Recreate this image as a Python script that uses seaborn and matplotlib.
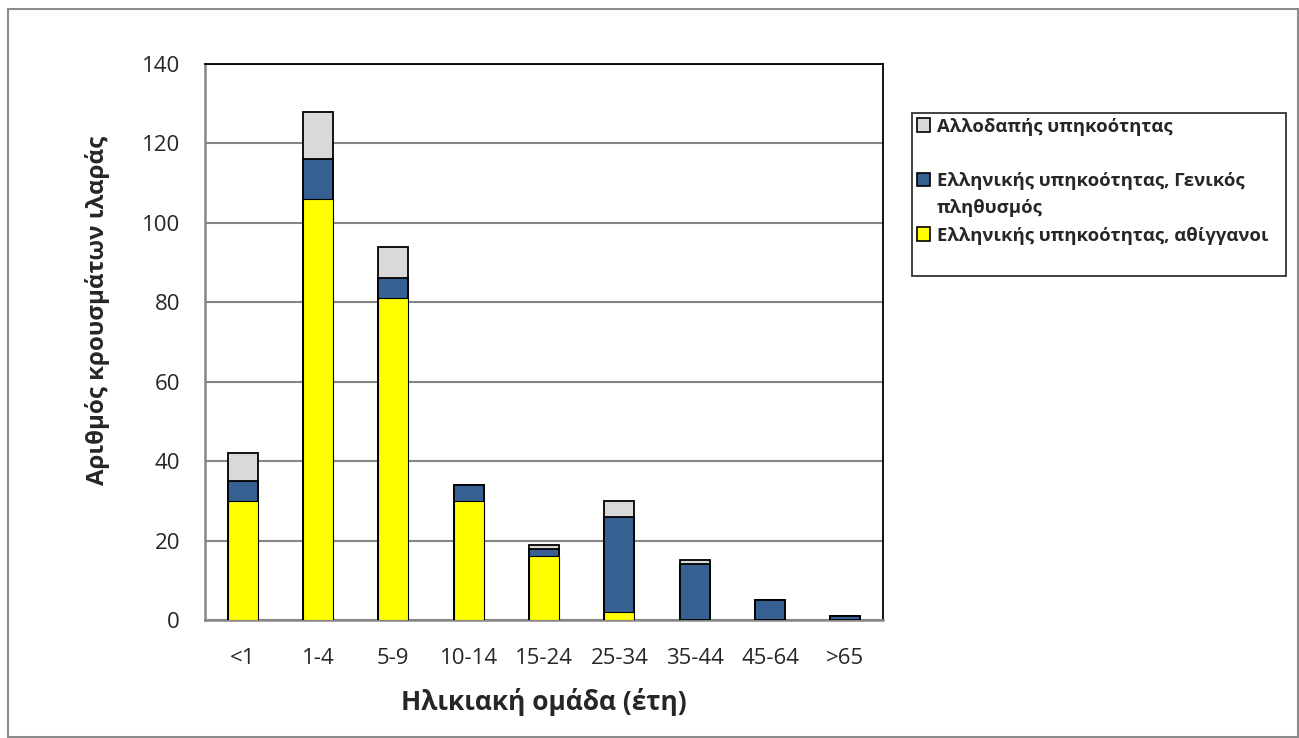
import matplotlib
matplotlib.use("Agg")
import matplotlib.pyplot as plt
import matplotlib.patches as mpatches
import seaborn as sns
import pandas as pd
import numpy as np

categories = ["<1", "1-4", "5-9", "10-14", "15-24", "25-34", "35-44", "45-64", ">65"]
roma = [30, 106, 81, 30, 16, 2, 0, 0, 0]          # Ελληνικής υπηκοότητας, αθίγγανοι
general = [5, 10, 5, 4, 2, 24, 14, 5, 1]          # Ελληνικής υπηκοότητας, Γενικός πληθυσμός
foreign = [7, 12, 8, 0, 1, 4, 1, 0, 0]            # Αλλοδαπής υπηκοότητας
label_foreign = "Αλλοδαπής υπηκοότητας"
label_general = ["Ελληνικής υπηκοότητας, Γενικός", "πληθυσμός"]
label_roma = "Ελληνικής υπηκοότητας, αθίγγανοι"
y_ticks = [0, 20, 40, 60, 80, 100, 120, 140]

sns.set_style("white")
plt.rcParams['font.family'] = ['Open Sans', 'DejaVu Sans']

c_grey = "#D9D9D9"
c_blue = "#376092"
c_yellow = "#FFFF00"

df = pd.DataFrame({"cat": categories, "roma": roma, "general": general, "foreign": foreign})
df["c1"] = df["roma"]
df["c2"] = df["roma"] + df["general"]
df["c3"] = df["c2"] + df["foreign"]

fig = plt.figure(figsize=(12.99, 7.38), dpi=100)
ax = fig.add_axes([205/1299, 118/738, 678/1299, 556/738])

# outer border
fig.patches.append(mpatches.Rectangle((8/1299, 1/738), 1290/1299, 728/738,
                                      transform=fig.transFigure, fill=False,
                                      edgecolor="#8C8C8C", linewidth=1.5))

w = 0.4
sns.barplot(data=df, x="cat", y="c3", color=c_grey, ax=ax, width=w,
            edgecolor="black", linewidth=1.3, saturation=1, zorder=3)
sns.barplot(data=df, x="cat", y="c2", color=c_blue, ax=ax, width=w,
            edgecolor="black", linewidth=1.3, saturation=1, zorder=3)
sns.barplot(data=df, x="cat", y="c1", color=c_yellow, ax=ax, width=w,
            edgecolor="black", linewidth=0.8, saturation=1, zorder=3)

for p in ax.patches:
    if p.get_height() <= 0:
        p.set_visible(False)

ax.set_ylim(0, 140)
ax.set_xlim(-0.5, len(categories) - 0.5)
ax.set_yticks(y_ticks)
ax.set_yticklabels([str(t) for t in y_ticks], fontsize=16)
ax.yaxis.grid(True, color="#868686", linewidth=1.5, zorder=0)
ax.set_axisbelow(True)

ax.set_xticks(range(len(categories)))
ax.set_xticklabels(categories, fontsize=16)
ax.tick_params(axis="x", length=0, pad=20)
ax.set_xticks(np.arange(-0.5, len(categories), 1.0), minor=True)
ax.tick_params(axis="x", which="minor", length=6, width=1.5, color="#868686", direction="out")
ax.tick_params(axis="y", length=6, width=1.5, color="#868686", direction="out", pad=12)

for s in ["left", "bottom"]:
    ax.spines[s].set_color("#868686")
    ax.spines[s].set_linewidth(1.8)
for s in ["top", "right"]:
    ax.spines[s].set_color("black")
    ax.spines[s].set_linewidth(1.3)
    ax.spines[s].set_visible(True)

ax.set_xlabel("Ηλικιακή ομάδα (έτη)", fontsize=19, fontweight="bold", labelpad=14)
ax.set_ylabel("Αριθμός κρουσμάτων ιλαράς", fontsize=17.3, fontweight="bold")
ax.yaxis.set_label_coords((110 - 205) / 678, (620 - 310) / 556)

# legend (Excel-like layout: blank line after first entry, wrapped second entry)
blank = mpatches.Patch(facecolor="none", edgecolor="none")
handles = [mpatches.Patch(facecolor=c_grey, edgecolor="black", linewidth=1.2),
           blank,
           mpatches.Patch(facecolor=c_blue, edgecolor="black", linewidth=1.2),
           blank,
           mpatches.Patch(facecolor=c_yellow, edgecolor="black", linewidth=1.2),
           blank]
labels = [label_foreign, " ", label_general[0], label_general[1], label_roma, " "]
leg = fig.legend(handles, labels, loc="upper left", mode="expand",
                 bbox_to_anchor=(912/1299, 1 - 273/738, 374/1299, 160/738),
                 prop={"size": 13.3, "weight": "bold"},
                 frameon=True, fancybox=False, edgecolor="black",
                 handlelength=0.75, handleheight=0.75, handletextpad=0.35,
                 labelspacing=0.5, borderpad=0.25, borderaxespad=0)
leg.get_frame().set_linewidth(1.3)

fig.savefig("out.png", dpi=100)
